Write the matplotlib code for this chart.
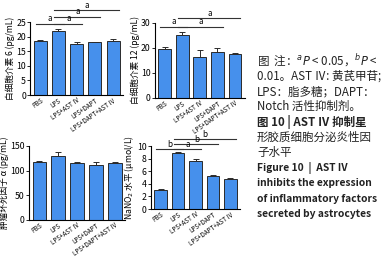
import matplotlib
matplotlib.use("Agg")
import matplotlib.pyplot as plt

plt.rcParams['font.family'] = ['Noto Sans CJK SC', 'DejaVu Sans']

# ──────────────────────────────────────────────
# Datos
# ──────────────────────────────────────────────
groups = ["PBS", "LPS", "LPS+AST Ⅳ", "LPS+DAPT", "LPS+DAPT+AST Ⅳ"]

il6 = [18.5, 21.8, 17.5, 18.0, 18.5]
il6_err = [0.4, 0.8, 0.5, 0.3, 0.6]

il12 = [19.5, 25.0, 16.3, 18.5, 17.7]
il12_err = [0.8, 1.5, 3.0, 1.3, 0.4]

tnf = [117, 130, 116, 111, 116]
tnf_err = [1.5, 8.0, 2.0, 6.0, 1.0]

nano2 = [3.1, 8.9, 7.6, 5.3, 4.8]
nano2_err = [0.1, 0.15, 0.4, 0.1, 0.2]

# (grupo i, grupo j, altura, etiqueta)
sig_il6 = [(0, 1, 24.4, "a"), (1, 2, 24.4, "a"), (1, 3, 26.7, "a"), (1, 4, 29.0, "a")]
sig_il12 = [(0, 1, 28.3, "a"), (1, 3, 28.3, "a"), (1, 4, 31.8, "a")]
sig_tnf = []
sig_nano2 = [(0, 1, 9.5, "b"), (1, 2, 9.5, "a"), (1, 3, 10.3, "b"), (1, 4, 11.1, "b")]

BAR_COLOR = "#4690ec"
EDGE = "#2b2b2b"

fig = plt.figure(figsize=(3.91, 2.59), dpi=100)


def panel(rect, vals, errs, ylim, yticks, ylabel, sigs):
    ax = fig.add_axes(rect)
    x = range(len(groups))
    ax.bar(x, vals, width=0.72, color=BAR_COLOR, edgecolor=EDGE, linewidth=0.7, zorder=2)
    ax.errorbar(x, vals, yerr=[[0] * len(errs), errs], fmt="none",
                ecolor=EDGE, elinewidth=0.7, capsize=2.2, capthick=0.7, zorder=3)
    ax.set_xlim(-0.55, len(groups) - 0.45)
    ax.set_ylim(*ylim)
    ax.set_yticks(yticks)
    ax.tick_params(axis="y", labelsize=6.3, length=2, width=0.6, pad=1)
    ax.tick_params(axis="x", length=0, pad=1)
    ax.set_xticks(list(x))
    ax.set_xticklabels(groups, rotation=35, ha="right", rotation_mode="anchor", fontsize=4.5)
    ax.set_ylabel(ylabel, fontsize=6.2, labelpad=1)
    for s in ("top", "right"):
        ax.spines[s].set_visible(False)
    for s in ("left", "bottom"):
        ax.spines[s].set_linewidth(0.8)
    span = ylim[1] - ylim[0]
    for i, j, h, lab in sigs:
        ax.plot([i - 0.25, j + 0.3], [h, h], color="#333333", lw=0.8, clip_on=False)
        ax.text((i + j) / 2 + 0.05, h + span * 0.01, lab, ha="center", va="bottom",
                fontsize=5.8, clip_on=False)
    return ax


panel([0.077, 0.633, 0.238, 0.282], il6, il6_err, (0, 25), [0, 5, 10, 15, 20, 25],
      "白细胞介素 6 (pg/mL)", sig_il6)
panel([0.396, 0.622, 0.230, 0.290], il12, il12_err, (0, 30), [0, 10, 20, 30],
      "白细胞介素 12 (pg/mL)", sig_il12)
panel([0.074, 0.151, 0.246, 0.286], tnf, tnf_err, (0, 150), [0, 50, 100, 150],
      "肿瘤坏死因子 α (pg/mL)", sig_tnf)
panel([0.386, 0.193, 0.228, 0.243], nano2, nano2_err, (0, 10), [0, 2, 4, 6, 8, 10],
      "NaNO$_2$ 水平 (μmol/L)", sig_nano2)

# ──────────────────────────────────────────────
# Pie de figura
# ──────────────────────────────────────────────
caption = [
    ("图  注：$^{a}P$ < 0.05，$^{b}P$ <", "normal", 8.3),
    ("0.01。AST Ⅳ: 黄芪甲苷;", "normal", 8.3),
    ("LPS：脂多糖；DAPT：", "normal", 8.3),
    ("Notch 活性抑制剂。", "normal", 8.3),
    ("图 10 | AST Ⅳ 抑制星", "bold", 8.3),
    ("形胶质细胞分泌炎性因", "normal", 8.3),
    ("子水平", "normal", 8.3),
    ("Figure 10  |  AST IV", "bold", 7.4),
    ("inhibits the expression", "bold", 7.4),
    ("of inflammatory factors", "bold", 7.4),
    ("secreted by astrocytes", "bold", 7.4),
]
y0 = 259 - 61
for k, (line, weight, size) in enumerate(caption):
    fig.text(257 / 391, (y0 - k * 15.3) / 259, line, fontsize=size, fontweight=weight,
             ha="left", va="center", color="#222222")

plt.savefig("out.png", dpi=100)
plt.close()
